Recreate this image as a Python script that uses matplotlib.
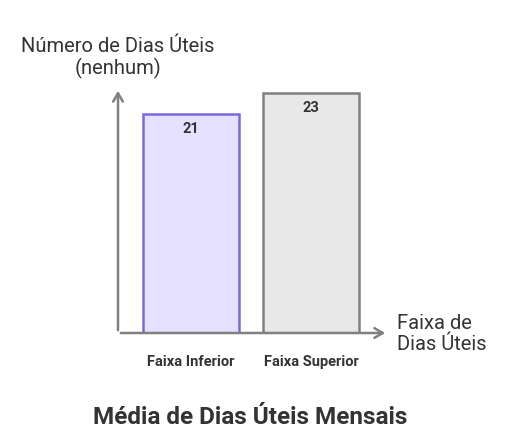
import matplotlib.pyplot as plt

plt.rcParams['font.family'] = ['Roboto', 'DejaVu Sans']

# dados
categorias = ['Faixa Inferior', 'Faixa Superior']
dias_uteis = [21, 23]
cores_fundo = ['#E6E1FF', '#E8E8E8']
cores_borda = ['#7B68DB', '#808080']

W, H = 512, 446
fig = plt.figure(figsize=(W / 100, H / 100), dpi=100)

# eixo em pixels: x 118..388, y 88..333
x0, x1, y0, y1 = 118, 388, 88, 333
ax = fig.add_axes([x0 / W, 1 - y1 / H, (x1 - x0) / W, (y1 - y0) / H])
ax.set_xlim(-(191 - x0) / 120, (x1 - 191) / 120)
ax.set_ylim(0, (y1 - y0) / 10.43)
ax.axis('off')

pos = list(range(len(categorias)))
ax.bar(pos, dias_uteis, width=0.8, color=cores_fundo, edgecolor=cores_borda, linewidth=1.8, zorder=2)
for p, v in zip(pos, dias_uteis):
    ax.annotate(str(v), (p, v), xytext=(0, -6), textcoords='offset points',
                ha='center', va='top', fontsize=10.5, fontweight='bold', color='#333333')
    ax.annotate(categorias[p], (p, 0), xytext=(0, -16), textcoords='offset points',
                ha='center', va='top', fontsize=10.5, fontweight='bold', color='#333333')

# eixos com setas
seta = dict(arrowstyle='->,head_width=0.35,head_length=0.6', color='#808080', lw=1.8)
ax.annotate('', xy=(0, 1), xytext=(0, 0), xycoords='axes fraction', arrowprops=seta)
ax.annotate('', xy=(1, 0), xytext=(0, 0), xycoords='axes fraction', arrowprops=seta)

fig.text(118 / W, 1 - 58 / H, 'Número de Dias Úteis\n(nenhum)', ha='center', va='center',
         fontsize=14.5, color='#333333', linespacing=1.15)
fig.text(397 / W, 1 - 334 / H, 'Faixa de\nDias Úteis', ha='left', va='center',
         fontsize=14.5, color='#333333', linespacing=1.15)
fig.text(250 / W, 1 - 418 / H, 'Média de Dias Úteis Mensais', ha='center', va='center',
         fontsize=17.5, fontweight='bold', color='#333333')

fig.savefig('out.png', dpi=100)
